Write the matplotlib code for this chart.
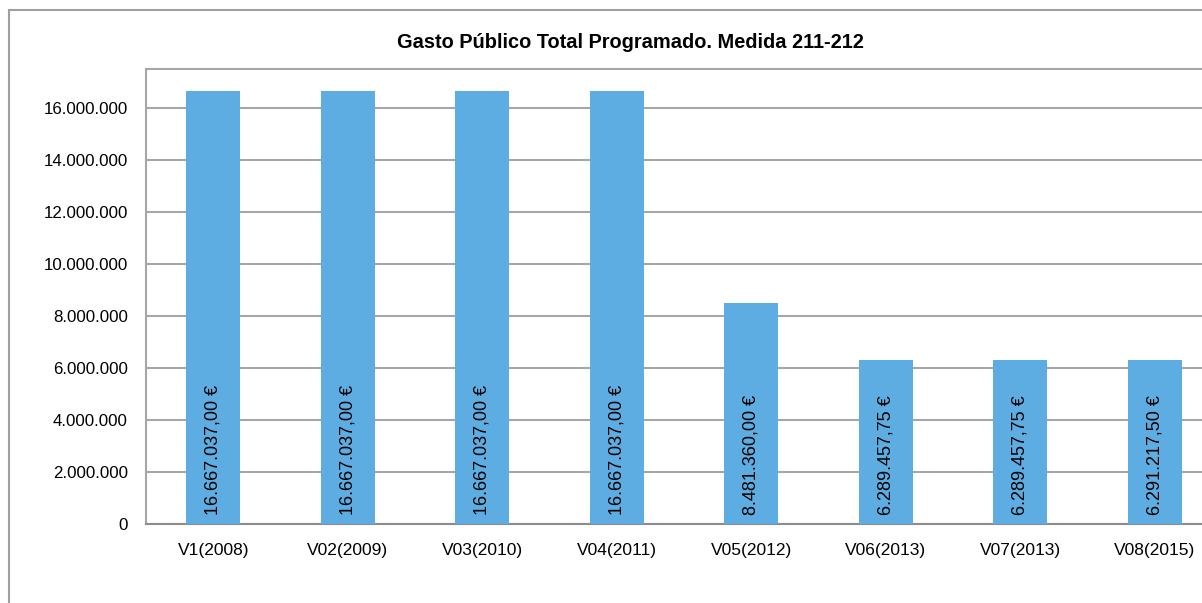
import matplotlib
matplotlib.use('Agg')
import matplotlib.pyplot as plt
from matplotlib.patches import Rectangle
from matplotlib.ticker import FuncFormatter

# data
versions = ['V1(2008)', 'V02(2009)', 'V03(2010)', 'V04(2011)',
            'V05(2012)', 'V06(2013)', 'V07(2013)', 'V08(2015)']
gasto = [16667037.00, 16667037.00, 16667037.00, 16667037.00,
         8481360.00, 6289457.75, 6289457.75, 6291217.50]
yticks = [0, 2000000, 4000000, 6000000, 8000000, 10000000,
          12000000, 14000000, 16000000]

plt.rcParams['font.family'] = ['Liberation Sans Narrow', 'Liberation Sans', 'DejaVu Sans']

W, H = 1202, 603
fig = plt.figure(figsize=(W / 100, H / 100), dpi=100)

# outer chart border (cut off on the right and bottom like the original)
fig.patches.append(Rectangle((8.5 / W, -0.1), 1.2, 1 - 10 / H + 0.1,
                             transform=fig.transFigure, fill=False,
                             edgecolor='#a0a0a0', linewidth=1.5))

ax = fig.add_axes([146 / W, 1 - 524 / H, (1222 - 146) / W, (524 - 69) / H])

def euro(v):
    s = '{:,.2f}'.format(v)
    return s.replace(',', 'X').replace('.', ',').replace('X', '.') + ' €'

def miles(v, pos):
    return '{:,.0f}'.format(v).replace(',', '.')

x = list(range(len(versions)))
bars = ax.bar(x, gasto, width=0.4, color='#5DACE2', zorder=3)
for xi, v in zip(x, gasto):
    ax.text(xi, 330000, euro(v), rotation=90, ha='center', va='bottom',
            fontsize=13, color='black', zorder=4)

ax.set_xlim(-0.5, 7.5)
ax.set_ylim(0, 17500000)
ax.set_yticks(yticks)
ax.yaxis.set_major_formatter(FuncFormatter(miles))
ax.set_xticks(x)
ax.set_xticklabels(versions)
ax.tick_params(axis='both', colors='black', length=0)
ax.tick_params(axis='y', labelsize=12.2, pad=13)
ax.tick_params(axis='x', labelsize=12.5, pad=14)
ax.grid(axis='y', color='#a6a6a6', linewidth=1.5, zorder=0)

ax.spines['right'].set_visible(False)
ax.spines['top'].set_color('#a6a6a6')
ax.spines['left'].set_color('#a6a6a6')
ax.spines['left'].set_linewidth(1.5)
ax.spines['bottom'].set_color('#8c8c8c')
ax.spines['bottom'].set_linewidth(1.5)
ax.spines['top'].set_linewidth(1.5)

fig.text(630 / W, 1 - 42 / H, 'Gasto Público Total Programado. Medida 211-212',
         ha='center', va='center', fontsize=14.4, fontweight='bold')

fig.savefig('out.png', dpi=100)
